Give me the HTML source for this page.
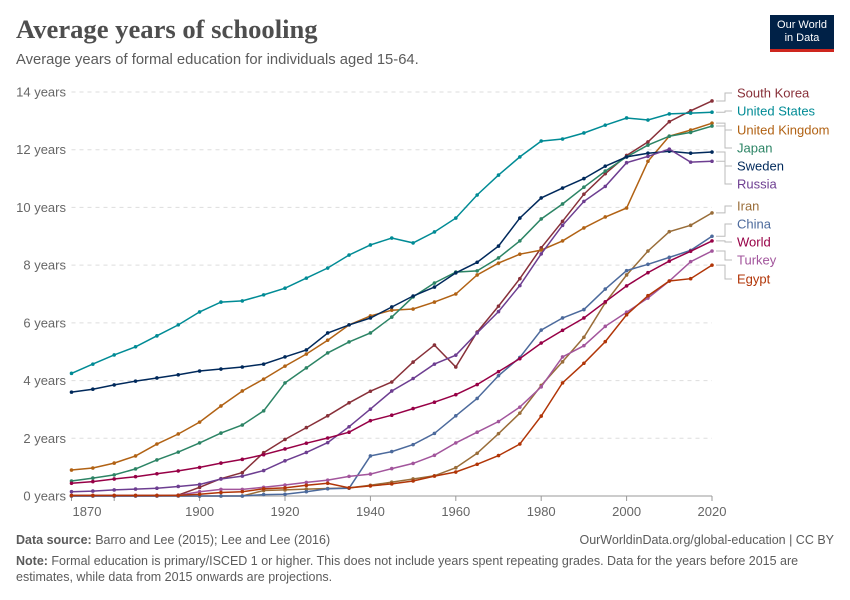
<!DOCTYPE html>
<html><head><meta charset="utf-8"><style>
body{margin:0;background:#fff;font-family:"Liberation Sans",sans-serif;}
#wrap{position:relative;width:850px;height:600px;overflow:hidden;}
.t{position:absolute;white-space:nowrap;}
</style></head><body>
<div id="wrap">
<div class="t" style="left:16px;top:14px;font-family:'Liberation Serif',serif;font-size:26.6px;font-weight:bold;color:#4e4e4e;">Average years of schooling</div>
<div class="t" style="left:16px;top:52px;font-size:14.8px;color:#5b5b5b;">Average years of formal education for individuals aged 15-64.</div>
<div style="position:absolute;left:770px;top:15px;width:64px;height:37px;background:#002147;border-bottom:3px solid #ce261e;box-sizing:border-box;color:#fff;font-size:11px;line-height:13px;text-align:center;padding-top:4px;">Our World<br>in Data</div>
<svg id="chart" width="850" height="600" style="position:absolute;left:0;top:0"></svg>
<div class="t" style="left:16px;top:533px;font-size:12.5px;color:#5b5b5b;"><b>Data source:</b> Barro and Lee (2015); Lee and Lee (2016)</div>
<div class="t" style="right:16px;top:533px;font-size:12.5px;color:#5b5b5b;">OurWorldinData.org/global-education | CC BY</div>
<div class="t" style="left:16px;top:553px;font-size:12.5px;color:#5b5b5b;line-height:16px;white-space:normal;width:820px;"><b>Note:</b> Formal education is primary/ISCED 1 or higher. This does not include years spent repeating grades. Data for the years before 2015 are estimates, while data from 2015 onwards are projections.</div>
</div>
<script>
const years=[1870,1875,1880,1885,1890,1895,1900,1905,1910,1915,1920,1925,1930,1935,1940,1945,1950,1955,1960,1965,1970,1975,1980,1985,1990,1995,2000,2005,2010,2015,2020];
const yTicks=[0,2,4,6,8,10,12,14];
const xTicks=[1870,1880,1900,1920,1940,1960,1980,2000,2020];
const southKorea=[0,0,0,0,0,0.03,0.3,0.6,0.81,1.5,1.96,2.37,2.78,3.23,3.63,3.95,4.64,5.23,4.47,5.68,6.58,7.53,8.6,9.52,10.46,11.17,11.8,12.27,12.97,13.35,13.69];
const unitedStates=[4.25,4.57,4.89,5.17,5.55,5.93,6.38,6.72,6.76,6.97,7.2,7.55,7.9,8.35,8.7,8.94,8.77,9.15,9.63,10.43,11.12,11.75,12.3,12.37,12.58,12.85,13.1,13.03,13.24,13.27,13.3];
const unitedKingdom=[0.9,0.97,1.14,1.39,1.8,2.15,2.56,3.12,3.64,4.05,4.5,4.92,5.4,5.93,6.24,6.44,6.48,6.72,7.0,7.66,8.07,8.38,8.52,8.84,9.29,9.67,9.98,11.6,12.47,12.68,12.92];
const japan=[0.52,0.62,0.73,0.94,1.25,1.52,1.84,2.18,2.46,2.95,3.92,4.44,4.96,5.34,5.65,6.2,6.9,7.38,7.76,7.8,8.25,8.84,9.6,10.12,10.7,11.26,11.75,12.16,12.47,12.6,12.82];
const sweden=[3.6,3.7,3.85,3.98,4.09,4.2,4.33,4.4,4.47,4.57,4.82,5.06,5.65,5.93,6.17,6.55,6.93,7.24,7.73,8.1,8.66,9.63,10.33,10.67,11.0,11.43,11.75,11.88,11.95,11.88,11.92];
const russia=[0.15,0.17,0.21,0.24,0.27,0.33,0.4,0.59,0.69,0.88,1.22,1.51,1.85,2.4,3.01,3.64,4.07,4.57,4.88,5.65,6.39,7.29,8.39,9.38,10.21,10.73,11.55,11.77,12.02,11.57,11.6];
const iran=[0,0,0,0,0,0,0,0,0,0.19,0.21,0.24,0.26,0.28,0.37,0.48,0.59,0.7,0.98,1.48,2.16,2.87,3.83,4.65,5.5,6.7,7.66,8.49,9.16,9.38,9.81];
const china=[0,0,0,0,0,0,0,0,0,0.05,0.06,0.15,0.25,0.27,1.39,1.54,1.78,2.17,2.78,3.38,4.17,4.8,5.75,6.17,6.46,7.17,7.81,8.03,8.27,8.51,9.0];
const world=[0.44,0.5,0.59,0.67,0.77,0.87,0.99,1.14,1.27,1.43,1.63,1.83,2.01,2.21,2.61,2.8,3.03,3.25,3.51,3.86,4.31,4.76,5.3,5.74,6.17,6.73,7.28,7.74,8.14,8.48,8.84];
const turkey=[0.02,0.02,0.02,0.02,0.02,0.02,0.15,0.23,0.23,0.3,0.38,0.47,0.55,0.68,0.76,0.95,1.13,1.41,1.84,2.21,2.58,3.08,3.78,4.82,5.21,5.88,6.37,6.86,7.45,8.12,8.49];
const egypt=[0.02,0.02,0.02,0.02,0.02,0.02,0.06,0.12,0.15,0.25,0.28,0.37,0.44,0.28,0.35,0.42,0.52,0.69,0.83,1.1,1.4,1.8,2.77,3.92,4.6,5.35,6.28,6.94,7.45,7.53,8.0];
const seriesNames=["South Korea","United States","United Kingdom","Japan","Sweden","Russia","Iran","China","World","Turkey","Egypt"];
const seriesData=[southKorea,unitedStates,unitedKingdom,japan,sweden,russia,iran,china,world,turkey,egypt];
const colors=["#883039","#008b95","#b16214","#2c8465","#00295b","#6d3e91","#996d39","#4c6a9c","#970046","#a2559c","#b13507"];
const labelY=[93,111,130,148,166,184,206,224,242,260,279];

const svg=document.getElementById('chart');
const NS='http://www.w3.org/2000/svg';
const x0=71.5,x1=712,y0=496,y1=92;
const xs=v=>x0+(v-1870)/(2020-1870)*(x1-x0);
const ys=v=>y0-v/14*(y0-y1);
function mk(tag,attrs){const e=document.createElementNS(NS,tag);for(const k in attrs)e.setAttribute(k,attrs[k]);svg.appendChild(e);return e;}
yTicks.forEach(t=>{
  if(t>0){const g=mk('line',{x1:x0,x2:x1,y1:ys(t),y2:ys(t),stroke:'#dddddd','stroke-dasharray':'4,4'});
  
  }
  const l=mk('text',{x:66,y:ys(t)+4.5,'text-anchor':'end','font-size':'13','fill':'#666','font-family':'Liberation Sans, sans-serif'});
  l.textContent=t+' years';
  
  
});
const ax=mk('line',{x1:x0,x2:x1,y1:y0,y2:y0,stroke:'#999'});


xTicks.forEach((t,i)=>{
  const tk=mk('line',{x1:xs(t),x2:xs(t),y1:y0,y2:y0+5,stroke:'#999'});
  
  
  if(t===1880)return;
  const l=mk('text',{x:i===0?x0+1:xs(t),y:516,'text-anchor':i===0?'start':'middle','font-size':'13','fill':'#666','font-family':'Liberation Sans, sans-serif'});
  l.textContent=t;
  
  
});
seriesData.forEach((d,si)=>{
  const pts=d.map((v,i)=>xs(years[i]).toFixed(1)+','+ys(v).toFixed(1)).join(' ');
  const pl=mk('polyline',{points:pts,fill:'none',stroke:colors[si],'stroke-width':'1.5'});
  
  
  d.forEach((v,i)=>{
    const c=mk('circle',{cx:xs(years[i]),cy:ys(v),r:1.8,fill:colors[si]});
    
    
  });
  const ey=ys(d[d.length-1]);
  const ly=labelY[si];
  const con=mk('polyline',{points:`${x1+4},${ey} ${x1+13},${ey} ${x1+13},${ly} ${x1+20},${ly}`,fill:'none',stroke:'#bbb','stroke-width':'1'});
  
  
  const t=mk('text',{x:737,y:ly+4.5,'font-size':'13','fill':colors[si],'font-family':'Liberation Sans, sans-serif'});
  t.textContent=seriesNames[si];
  
  
});
</script>
</body></html>
